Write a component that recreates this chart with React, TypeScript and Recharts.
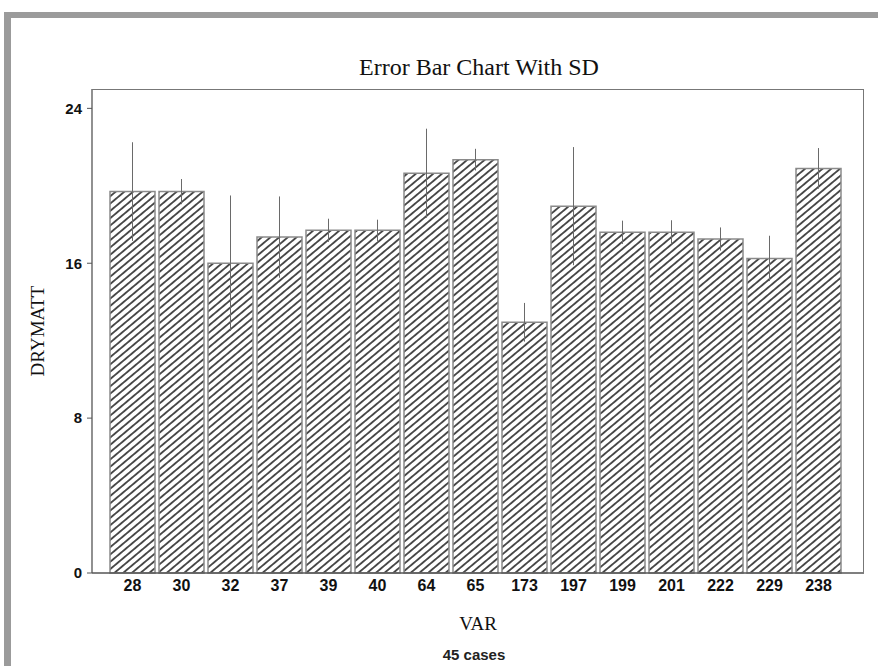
import { BarChart, Bar, XAxis, YAxis, ErrorBar } from 'recharts';

const varNames = ['28', '30', '32', '37', '39', '40', '64', '65', '173', '197', '199', '201', '222', '229', '238'];
const means = [19.7, 19.7, 16.0, 17.35, 17.7, 17.7, 20.65, 21.35, 12.95, 18.95, 17.6, 17.6, 17.25, 16.25, 20.9];
const sds = [2.55, 0.65, 3.5, 2.1, 0.6, 0.55, 2.3, 0.56, 1.0, 3.05, 0.6, 0.62, 0.6, 1.17, 1.05];
const yTicks = [0, 8, 16, 24];

const data = varNames.map((name, i) => ({ name, mean: means[i], sd: sds[i] }));

const serif = '"Liberation Serif", "Times New Roman", serif';
const sans = '"Liberation Sans", Arial, sans-serif';

const W = 878;
const H = 666;
const margin = { top: 89, right: 14, bottom: 63, left: 52 };
const yAxisW = 40;
const xAxisH = 30;

export default function App() {
  const plotLeft = margin.left + yAxisW;
  const plotW = W - plotLeft - margin.right;
  const plotH = H - margin.top - margin.bottom - xAxisH;

  return (
    <div style={{ position: 'absolute', left: 0, top: 0, width: W, height: H, background: '#fff', overflow: 'hidden' }}>
      {/* scanned page frame */}
      <div style={{ position: 'absolute', left: 4, top: 12, width: 900, height: 700, borderLeft: '7px solid #9b9b9b', borderTop: '6px solid #9b9b9b' }} />

      <div style={{ position: 'absolute', left: 0, width: W, top: 54, textAlign: 'center', paddingLeft: 80, boxSizing: 'border-box', fontFamily: serif, fontSize: 24, color: '#111' }}>
        Error Bar Chart With SD
      </div>

      <div style={{ position: 'absolute', left: 0, top: 0 }}>
        <BarChart width={W} height={H} data={data} margin={margin} barCategoryGap={2}>
          <defs>
            <pattern id="hatch" patternUnits="userSpaceOnUse" width="10" height="5.6" patternTransform="rotate(-40)">
              <rect width="10" height="5.6" fill="#fff" />
              <line x1="0" y1="2.8" x2="10" y2="2.8" stroke="#1a1a1a" strokeWidth="1.5" />
            </pattern>
          </defs>
          <XAxis
            dataKey="name"
            height={xAxisH}
            padding={{ left: 16, right: 21 }}
            tickLine={false}
            tickSize={0}
            tickMargin={7}
            axisLine={{ stroke: '#555', strokeWidth: 1.3 }}
            tick={{ fontFamily: sans, fontSize: 16, fontWeight: 'bold', fill: '#111' }}
            interval={0}
            label={{ value: 'VAR', position: 'bottom', offset: 14, style: { fontFamily: serif, fontSize: 19, fill: '#111' } }}
          />
          <YAxis
            width={yAxisW}
            domain={[0, 25]}
            ticks={yTicks}
            tickSize={5}
            tickMargin={5}
            axisLine={{ stroke: '#555', strokeWidth: 1.3 }}
            tickLine={{ stroke: '#555' }}
            tick={{ fontFamily: sans, fontSize: 15, fontWeight: 'bold', fill: '#111' }}
            label={{ value: 'DRYMATT', angle: -90, position: 'left', offset: 15, style: { fontFamily: serif, fontSize: 19, fill: '#111', textAnchor: 'middle' } }}
          />
          <Bar dataKey="mean" fill="url(#hatch)" stroke="#8a8a8a" strokeWidth={1.5} isAnimationActive={false}>
            <ErrorBar dataKey="sd" width={0} stroke="#6a6a6a" strokeWidth={1} />
          </Bar>
        </BarChart>
      </div>

      {/* top and right edges of the plot frame */}
      <div style={{ position: 'absolute', left: plotLeft, top: margin.top, width: plotW, height: plotH, borderTop: '1.5px solid #777', borderRight: '1.5px solid #777', boxSizing: 'border-box', pointerEvents: 'none' }} />

      <div style={{ position: 'absolute', left: 424, width: 100, top: 646, textAlign: 'center', fontFamily: sans, fontSize: 15, fontWeight: 'bold', color: '#222' }}>
        45 cases
      </div>
    </div>
  );
}
